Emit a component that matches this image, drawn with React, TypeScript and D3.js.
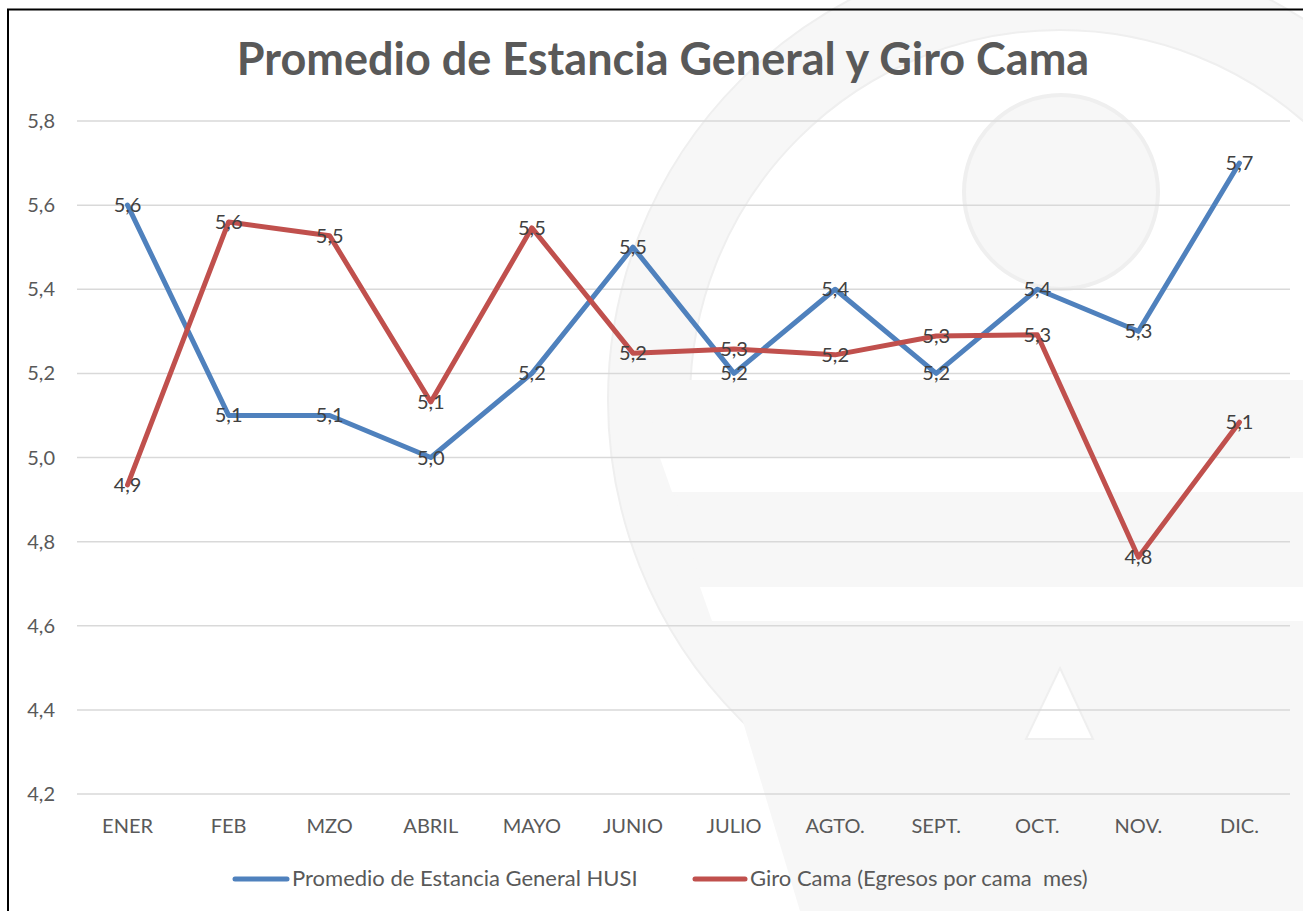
import * as d3 from 'd3';

// chart data
const months = ['ENER', 'FEB', 'MZO', 'ABRIL', 'MAYO', 'JUNIO', 'JULIO', 'AGTO.', 'SEPT.', 'OCT.', 'NOV.', 'DIC.'];
const estancia = [5.6, 5.1, 5.1, 5.0, 5.2, 5.5, 5.2, 5.4, 5.2, 5.4, 5.3, 5.7];
const giroCama = [4.935, 5.56, 5.527, 5.132, 5.546, 5.248, 5.258, 5.244, 5.289, 5.292, 4.763, 5.084];
const seriesNames = ['Promedio de Estancia General HUSI', 'Giro Cama (Egresos por cama  mes)'];
const title = 'Promedio de Estancia General y Giro Cama';

const W = 1303;
const H = 911;
const FONT = 'Lato, "Open Sans", sans-serif';

const blue = '#4f81bd';
const red = '#c0504d';

const locale = d3.formatLocale({ decimal: ',', thousands: '.', grouping: [3], currency: ['', ''] });
const fmt = locale.format('.1f');

export default function App() {
  const x = d3.scalePoint<string>().domain(months).range([77, 1290]).padding(0.5);
  const y = d3.scaleLinear().domain([4.2, 5.8]).range([794, 121]);
  const ticks = d3.range(4.2, 5.81, 0.2);

  const line = d3.line<number>()
    .x((_, i) => x(months[i]) as number)
    .y(d => y(d));

  const series = [
    { name: seriesNames[0], values: estancia, color: blue },
    { name: seriesNames[1], values: giroCama, color: red },
  ];

  // faint logo in the background
  const ring = d3.arc()({ innerRadius: 370, outerRadius: 452, startAngle: 0, endAngle: Math.PI * 2 }) as string;
  const wm = '#f7f7f7';
  const wmEdge = '#efefef';

  return (
    <div style={{ position: 'fixed', left: 0, top: 0 }}>
      <svg width={W} height={H} style={{ display: 'block', background: '#fff' }}>
        <g>
          <path d={ring} transform="translate(1060,400)" fill={wm} stroke={wmEdge} strokeWidth={2} />
          <circle cx={1061} cy={192} r={97} fill={wm} stroke={wmEdge} strokeWidth={4} />
          <path d="M640,380 L1480,380 L1480,911 L800,911 Z" fill={wm} />
          <path d="M660,458 L1400,458 L1400,492 L672,492 Z" fill="#fff" />
          <path d="M700,587 L1400,587 L1400,621 L712,621 Z" fill="#fff" />
          <path d="M1060,668 L1093,739 L1026,739 Z" fill="#fff" stroke={wmEdge} strokeWidth={2} />
        </g>

        {/* outer frame, only left and top visible */}
        <rect x={8} y={9.5} width={1400} height={1000} fill="none" stroke="#000" strokeWidth={2} />

        <text x={663} y={75} textAnchor="middle" fontFamily={FONT} fontWeight="bold" fontSize={45} fill="#595959">
          {title}
        </text>

        {ticks.map(t => (
          <g key={t}>
            <line x1={77} x2={1290} y1={y(t)} y2={y(t)} stroke="#d9d9d9" strokeWidth={1.5} />
            <text x={55} y={y(t)} dy="0.35em" textAnchor="end" fontFamily={FONT} fontSize={20} fill="#595959">
              {fmt(t)}
            </text>
          </g>
        ))}

        {months.map(m => (
          <text key={m} x={x(m)} y={833} textAnchor="middle" fontFamily={FONT} fontSize={20} fill="#595959">
            {m}
          </text>
        ))}

        {series.map(s => (
          <path key={s.name} d={line(s.values) as string} fill="none" stroke={s.color} strokeWidth={5}
            strokeLinejoin="round" strokeLinecap="round" />
        ))}

        {series.map(s => s.values.map((v, i) => (
          <text key={s.name + i} x={x(months[i])} y={y(v)} dy="0.35em" textAnchor="middle"
            fontFamily={FONT} fontSize={20} fill="#404040">
            {fmt(v)}
          </text>
        )))}

        {/* legend */}
        <line x1={235} x2={287} y1={879} y2={879} stroke={blue} strokeWidth={5} strokeLinecap="round" />
        <text x={292} y={886} fontFamily={FONT} fontSize={22} fill="#595959">{seriesNames[0]}</text>
        <line x1={695} x2={745} y1={879} y2={879} stroke={red} strokeWidth={5} strokeLinecap="round" />
        <text x={750} y={886} fontFamily={FONT} fontSize={22} fill="#595959" style={{ whiteSpace: 'pre' }}>{seriesNames[1]}</text>
      </svg>
    </div>
  );
}
